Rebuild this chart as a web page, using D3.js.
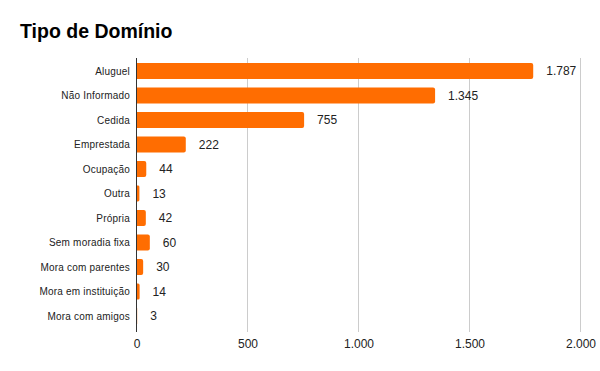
<!DOCTYPE html>
<html>
<head>
<meta charset="utf-8">
<script src="https://cdn.jsdelivr.net/npm/d3@7"></script>
<style>
  body { margin: 0; background: #fff; }
  text { font-family: "Liberation Sans", Arial, sans-serif; }
</style>
</head>
<body>
<div id="chart"></div>
<script>
var categories = ["Aluguel", "Não Informado", "Cedida", "Emprestada", "Ocupação", "Outra", "Própria",
  "Sem moradia fixa", "Mora com parentes", "Mora em instituição", "Mora com amigos"];
var values = [1787, 1345, 755, 222, 44, 13, 42, 60, 30, 14, 3];
var tickValues = [0, 500, 1000, 1500, 2000];

var width = 600, height = 371;
var fmt = d3.formatLocale({decimal: ",", thousands: ".", grouping: [3], currency: ["R$", ""]}).format(",d");

var svg = d3.select("#chart").append("svg").attr("width", width).attr("height", height);

svg.append("text")
  .attr("x", 20).attr("y", 38)
  .style("font-size", "19.5px").style("font-weight", "bold").attr("fill", "#000")
  .text("Tipo de Domínio");

var x = d3.scaleLinear().domain([0, 2000]).range([136.5, 580.5]);
var y = d3.scaleBand().domain(categories).range([58.75, 328.25]).paddingInner(0.35).paddingOuter(0.175);

// gridlines
svg.selectAll("line.grid")
  .data(tickValues.slice(1)).enter()
  .append("line").attr("class", "grid")
  .attr("x1", function(d){ return x(d); }).attr("x2", function(d){ return x(d); })
  .attr("y1", 58).attr("y2", 332)
  .style("stroke", "#cccccc").style("stroke-width", 1);

// bars with rounded right end
svg.selectAll("path.bar")
  .data(values).enter()
  .append("path").attr("class", "bar")
  .attr("fill", "#ff6d01")
  .attr("d", function(d, i){
    var x0 = x(0), x1 = x(d), y0 = y(categories[i]), h = y.bandwidth();
    var r = Math.min(2, (x1 - x0) / 2);
    return "M" + x0 + "," + y0 + "H" + (x1 - r) + "Q" + x1 + "," + y0 + " " + x1 + "," + (y0 + r)
      + "V" + (y0 + h - r) + "Q" + x1 + "," + (y0 + h) + " " + (x1 - r) + "," + (y0 + h) + "H" + x0 + "Z";
  });

// value labels
svg.selectAll("text.val")
  .data(values).enter()
  .append("text").attr("class", "val")
  .attr("x", function(d){ return x(d) + 13; })
  .attr("y", function(d, i){ return y(categories[i]) + y.bandwidth() / 2; })
  .attr("dy", "0.35em")
  .style("font-size", "12px").attr("fill", "#222")
  .text(function(d){ return fmt(d); });

// category labels
svg.selectAll("text.cat")
  .data(categories).enter()
  .append("text").attr("class", "cat")
  .attr("x", 130)
  .attr("y", function(d){ return y(d) + y.bandwidth() / 2; })
  .attr("dy", "0.35em").attr("text-anchor", "end")
  .style("font-size", "10px").style("letter-spacing", "0.2px").attr("fill", "#222")
  .text(function(d){ return d; });

// baseline axis
svg.append("line")
  .attr("x1", x(0)).attr("x2", x(0)).attr("y1", 58).attr("y2", 332)
  .style("stroke", "#333").style("stroke-width", 1);

// x tick labels
var xAxis = d3.axisBottom(x).tickValues(tickValues).tickSize(0).tickPadding(0).tickFormat(fmt);
var gx = svg.append("g").attr("transform", "translate(0,339)").call(xAxis);
gx.select(".domain").remove();
gx.selectAll("text").style("font-size", "12px").attr("fill", "#222")
  .style("font-family", "'Liberation Sans', Arial, sans-serif");
</script>
</body>
</html>
